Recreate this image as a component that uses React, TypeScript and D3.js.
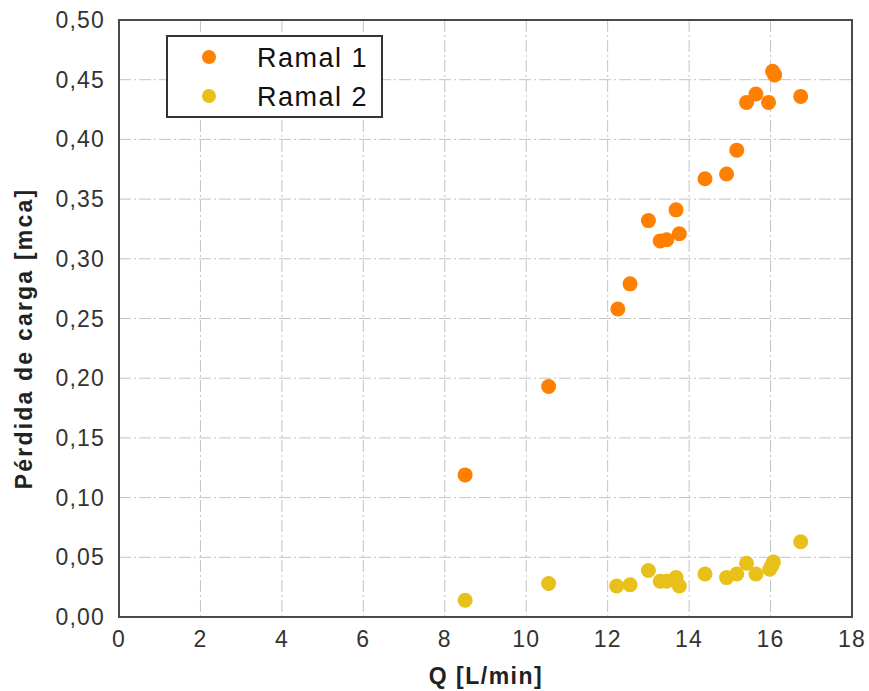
import React from "react";
import * as d3 from "d3";

const qRamal1 = [8.5, 10.55, 12.25, 12.55, 13.0, 13.29, 13.45, 13.68, 13.76, 14.39, 14.92, 15.17, 15.41, 15.64, 15.95, 16.05, 16.1, 16.74];
const hRamal1 = [0.119, 0.193, 0.258, 0.279, 0.332, 0.315, 0.316, 0.341, 0.321, 0.367, 0.371, 0.391, 0.431, 0.438, 0.431, 0.457, 0.454, 0.436];
const qRamal2 = [8.5, 10.55, 12.22, 12.55, 13.0, 13.29, 13.45, 13.68, 13.76, 14.39, 14.92, 15.17, 15.41, 15.64, 15.98, 16.03, 16.07, 16.74];
const hRamal2 = [0.014, 0.028, 0.026, 0.027, 0.039, 0.030, 0.030, 0.033, 0.026, 0.036, 0.033, 0.036, 0.045, 0.036, 0.040, 0.043, 0.046, 0.063];
const seriesNames = ["Ramal 1", "Ramal 2"];
const xTicks = [0, 2, 4, 6, 8, 10, 12, 14, 16, 18];
const yTicks = [0, 0.05, 0.1, 0.15, 0.2, 0.25, 0.3, 0.35, 0.4, 0.45, 0.5];
const xTitle = "Q [L/min]";
const yTitle = "Pérdida de carga [mca]";

const colors = ["#FF8000", "#E8C01A"];

export default function App() {
  const W = 869, H = 691;
  const left = 119, right = 852, top = 20, bottom = 617;
  const x = d3.scaleLinear().domain([0, 18]).range([left, right]);
  const y = d3.scaleLinear().domain([0, 0.5]).range([bottom, top]);
  const fmt = (v: number) => d3.format(".2f")(v).replace(".", ",");
  const series = [
    { q: qRamal1, h: hRamal1 },
    { q: qRamal2, h: hRamal2 },
  ];
  const font = "'Liberation Sans', Arial, sans-serif";
  return (
    <svg width={W} height={H} style={{ position: "absolute", left: 0, top: 0 }} fontFamily={font}>
      <rect x={0} y={0} width={W} height={H} fill="#fff" />
      {xTicks.slice(1, -1).map((t) => (
        <line key={"gx" + t} x1={x(t)} x2={x(t)} y1={top} y2={bottom} stroke="#c4c4c4" strokeWidth={1} strokeDasharray="12 3 2 3" />
      ))}
      {yTicks.slice(1, -1).map((t) => (
        <line key={"gy" + t} x1={left} x2={right} y1={y(t)} y2={y(t)} stroke="#c4c4c4" strokeWidth={1} strokeDasharray="12 3 2 3" />
      ))}
      <rect x={left} y={top} width={right - left} height={bottom - top} fill="none" stroke="#4a4a4a" strokeWidth={2} />
      {xTicks.map((t) => (
        <text key={"tx" + t} x={x(t)} y={647} textAnchor="middle" fontSize={23} fill="#333" letterSpacing={1.2}>
          {t}
        </text>
      ))}
      {yTicks.map((t) => (
        <text key={"ty" + t} x={105} y={y(t) + 8} textAnchor="end" fontSize={23} fill="#333" letterSpacing={1.2}>
          {fmt(t)}
        </text>
      ))}
      <text x={486} y={684} textAnchor="middle" fontSize={23} fontWeight="bold" fill="#222" letterSpacing={1.5}>
        {xTitle}
      </text>
      <text transform={`translate(32,${(top + bottom) / 2 + 20}) rotate(-90)`} textAnchor="middle" fontSize={23} fontWeight="bold" fill="#222" letterSpacing={2.2}>
        {yTitle}
      </text>
      {series.map((s, si) =>
        s.q.map((qv, i) => (
          <circle key={si + "-" + i} cx={x(qv)} cy={y(s.h[i])} r={7.5} fill={colors[si]} />
        ))
      )}
      <rect x={167} y={36} width={215} height={81} fill="#fff" stroke="#333" strokeWidth={2} />
      {seriesNames.map((n, i) => (
        <g key={n}>
          <circle cx={209} cy={57 + i * 39} r={7} fill={colors[i]} />
          <text x={257} y={67 + i * 39} fontSize={27} fill="#111" letterSpacing={1.5}>
            {n}
          </text>
        </g>
      ))}
    </svg>
  );
}
